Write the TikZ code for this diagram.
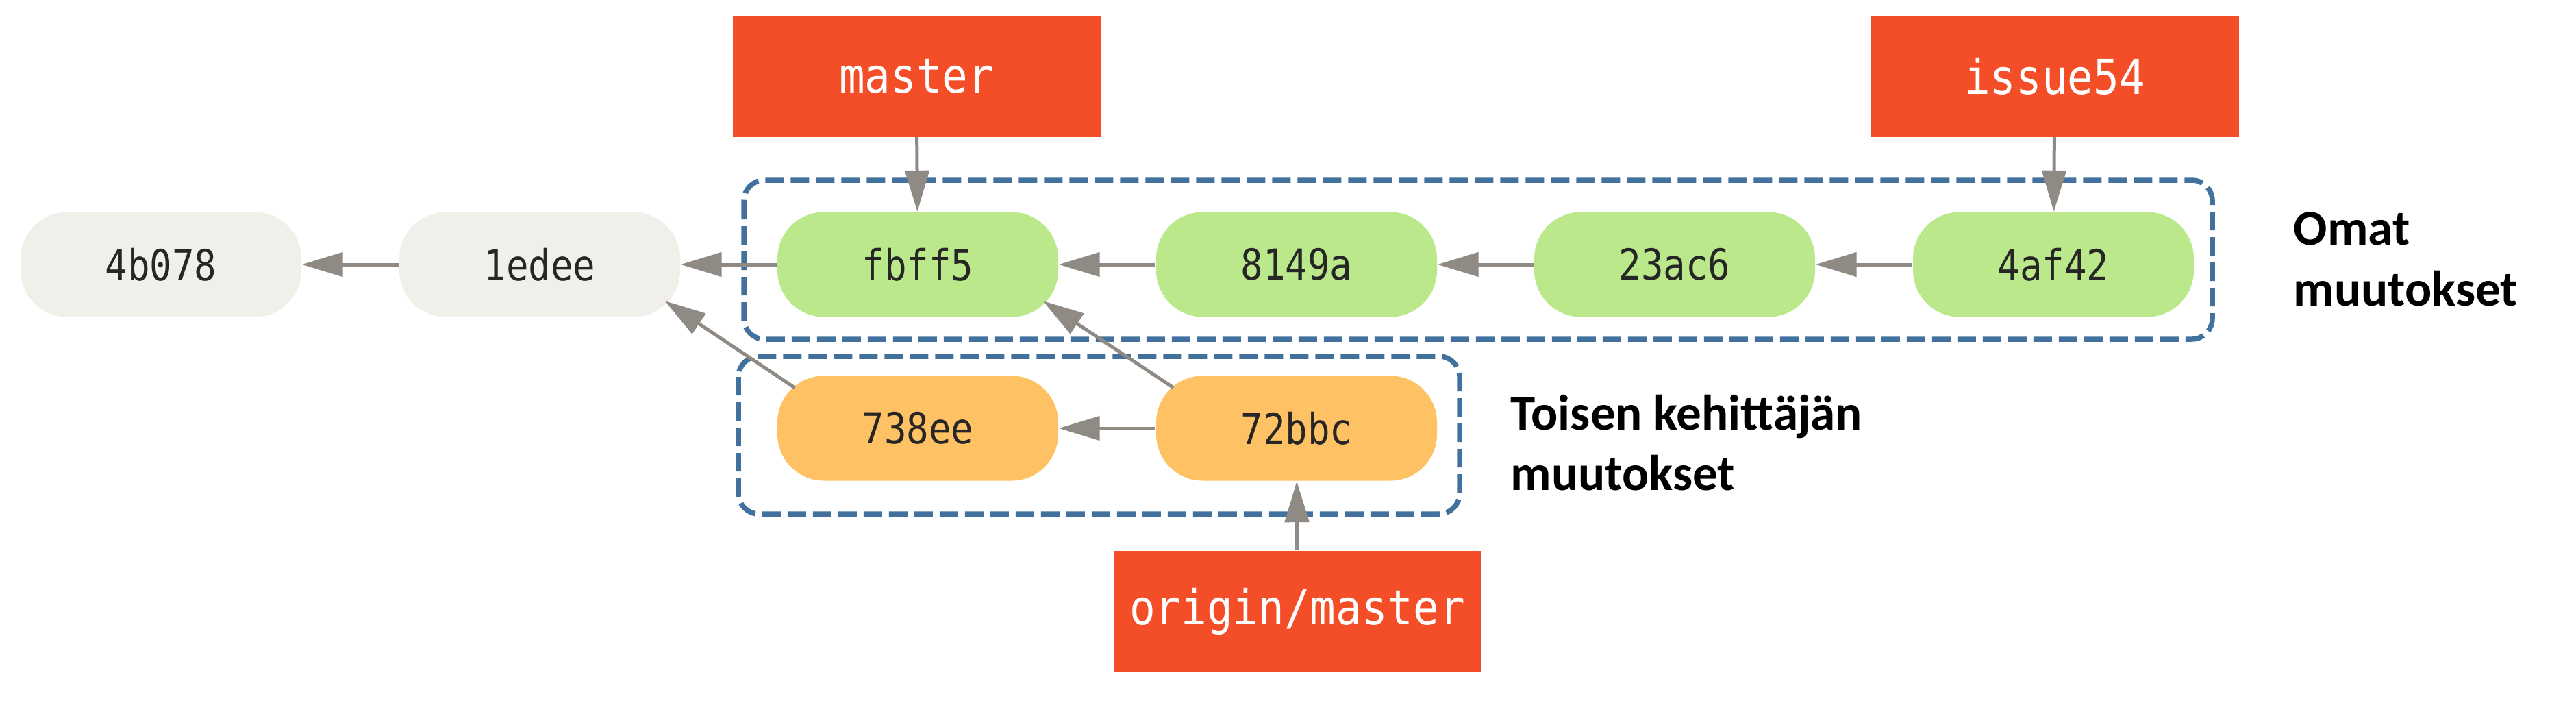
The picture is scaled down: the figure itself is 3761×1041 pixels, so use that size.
\documentclass[tikz,border=0pt]{standalone}
\usepackage{fontspec}
\usepackage{graphicx}
\usetikzlibrary{arrows.meta}
\newfontfamily\hashfont{DejaVu Sans Mono}
\newfontfamily\notefont{Carlito}
\newcommand{\tallhash}[1]{\scalebox{1}[1.15]{#1}}
\newcommand{\tallref}[1]{\scalebox{1}[1.12]{#1}}
\definecolor{branchred}{RGB}{244,78,40}
\definecolor{commitgray}{RGB}{240,239,233}
\definecolor{commitgreen}{RGB}{186,232,138}
\definecolor{commitorange}{RGB}{254,193,99}
\definecolor{arrowgray}{RGB}{143,139,132}
\definecolor{boxblue}{RGB}{65,113,156}

\begin{document}
\begin{tikzpicture}[x=0.1mm,y=-0.1mm,
    commit/.style={rectangle,rounded corners=6.8mm,minimum width=41mm,minimum height=15.3mm,
      inner sep=0pt,text=black!85,font=\hashfont\fontsize{15.4}{18}\selectfont},
    ref/.style={rectangle,fill=branchred,minimum width=53.7mm,minimum height=17.7mm,
      inner sep=0pt,text=white,font=\hashfont\fontsize{17.8}{21}\selectfont},
    group/.style={draw=boxblue,line width=0.75mm,dash pattern=on 2.7mm off 1mm,rounded corners=3mm},
    note/.style={anchor=north west,inner sep=0pt,align=left,
      font=\notefont\bfseries\fontsize{20.8}{25.2}\selectfont}]
    \useasboundingbox (0,0) rectangle (3761,1041);

    % commits
    \foreach \name/\x in {4b078/235,1edee/788} {
      \node[commit,fill=commitgray] (C_\name) at (\x,386) {\tallhash{\name}};
    }
    \foreach \name/\x in {fbff5/1340,8149a/1893,23ac6/2445,4af42/2998} {
      \node[commit,fill=commitgreen] (C_\name) at (\x,386) {\tallhash{\name}};
    }
    \foreach \name/\x in {738ee/1340,72bbc/1893} {
      \node[commit,fill=commitorange] (C_\name) at (\x,625) {\tallhash{\name}};
    }

    % branches
    \node[ref] (R_master) at (1338,111) {\tallref{master}};
    \node[ref] (R_issue54) at (3000,111) {\tallref{issue54}};
    \node[ref] (R_origin) at (1894,892) {\tallref{origin/master}};

    % groups
    \draw[group] (1086,263) rectangle (3230,495);
    \draw[group] (1078,520) rectangle (2131,750);
    \node[note] (own) at (3348,309) {Omat\\muutokset};
    \node[note] (other) at (2205,575) {Toisen kehittäjän\\muutokset};

    \begin{scope}[color=arrowgray,line width=0.5mm,-{Triangle[length=6mm,width=3.5mm]}]
        \path
        (C_1edee) edge (C_4b078)
        (C_fbff5) edge (C_1edee)
        (C_8149a) edge (C_fbff5)
        (C_23ac6) edge (C_8149a)
        (C_4af42) edge (C_23ac6)
        (C_72bbc) edge (C_738ee);
        \path
        ([shift={(26,18)}]C_738ee.north west) edge ([shift={(-23,-24)}]C_1edee.south east)
        ([shift={(26,18)}]C_72bbc.north west) edge ([shift={(-23,-24)}]C_fbff5.south east);
        \path
        (R_master) edge (C_fbff5)
        (R_issue54) edge (C_4af42)
        (R_origin) edge (C_72bbc);
    \end{scope}
\end{tikzpicture}
\end{document}
